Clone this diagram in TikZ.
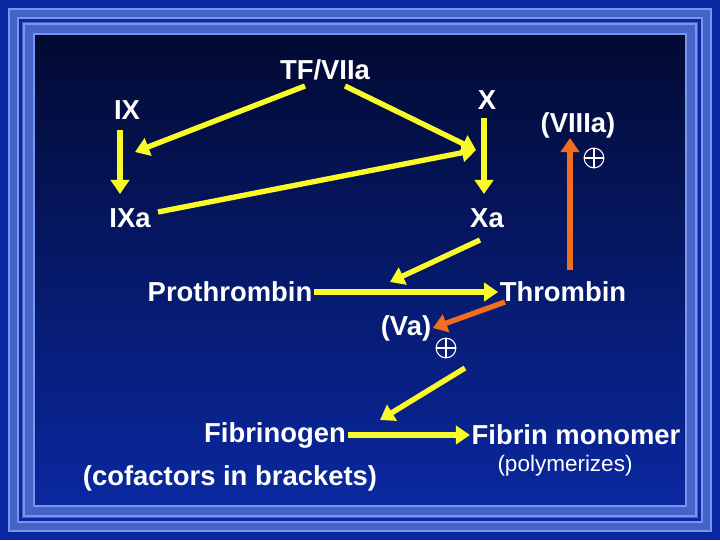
\documentclass[tikz,border=0pt]{standalone}
\usepackage{fontspec}
\setmainfont{Liberation Sans}
\usetikzlibrary{positioning,arrows.meta}
\definecolor{slideblue}{RGB}{10,40,160}
\definecolor{bandblue}{RGB}{70,100,200}
\definecolor{lineblue}{RGB}{120,150,240}
\definecolor{navy}{RGB}{2,10,50}
\definecolor{arrowyellow}{RGB}{250,250,40}
\definecolor{arroworange}{RGB}{240,110,30}
\tikzset{
  lbl/.style={text=white, font=\bfseries\fontsize{19.5}{23}\selectfont, inner sep=1pt},
  small/.style={text=white, font=\fontsize{16}{19}\selectfont, inner sep=1pt},
  act/.style={draw=arrowyellow, line width=3.8pt, -{Triangle[length=10pt,width=13pt]}},
  cof/.style={draw=arroworange, line width=3.8pt, -{Triangle[length=10pt,width=13pt]}},
  plus/.style={circle, draw=white, thick, minimum size=14pt, inner sep=0pt,
    path picture={\draw[white,thick] (path picture bounding box.west) -- (path picture bounding box.east)
      (path picture bounding box.north) -- (path picture bounding box.south);}}
}
\begin{document}
\begin{tikzpicture}[x=0.025cm,y=-0.025cm]
  % frame
  \fill[slideblue] (0,0) rectangle (720,540);
  \fill[bandblue] (8,8) rectangle (712,532);
  \draw[lineblue, line width=1.2pt] (9,9) rectangle (711,531);
  \draw[slideblue, line width=3pt] (20,20) rectangle (700,520);
  \draw[lineblue, line width=1.2pt] (18,18) rectangle (702,522);
  \draw[lineblue, line width=1.2pt] (24,24) rectangle (696,516);
  \shade[top color=navy, bottom color=slideblue] (34,34) rectangle (686,506);
  \draw[lineblue, line width=1.2pt] (34,34) rectangle (686,506);

  % factors
  \node[lbl] (tf) at (325,70) {TF/VIIa};
  \node[lbl] (ix) at (127,110) {IX};
  \node[lbl] (x) at (487,100) {X};
  \node[lbl] (viiia) at (578,125) {(VIIIa)};
  \node[plus] (p1) at (594,158) {};
  \node[lbl] (ixa) at (130,218) {IXa};
  \node[lbl] (xa) at (487,218) {Xa};
  \node[lbl] (pro) at (230,292) {Prothrombin};
  \node[lbl] (thr) at (563,292) {Thrombin};
  \node[lbl] (va) at (406,328) {(Va)};
  \node[plus] (p2) at (446,348) {};
  \node[lbl] (fbg) at (275,435) {Fibrinogen};
  \node[lbl] (fbm) at (576,435) {Fibrin monomer};
  \node[lbl] (note) at (230,478) {(cofactors in brackets)};
  \node[small] (poly) at (565,466) {(polymerizes)};

  \coordinate (vaend) at (380,420);
  \coordinate (xin) at (476,150);

  % arrows
  \draw[act] (305,86) -- (135,152);
  \draw[act] (345,86) -- (xin);
  \draw[act] (120,130) -- (120,194);
  \draw[act] (484,118) -- (484,194);
  \draw[act] (158,212) -- (xin);
  \draw[act] (480,240) -- (390,282);
  \draw[act] (pro.east) -- (thr.west);
  \draw[cof] (505,302) -- (va.east);
  \draw[cof] (570,270) -- (570,138);
  \draw[act] (465,368) -- (vaend);
  \draw[act] (fbg.east) -- (fbm.west);
\end{tikzpicture}
\end{document}
